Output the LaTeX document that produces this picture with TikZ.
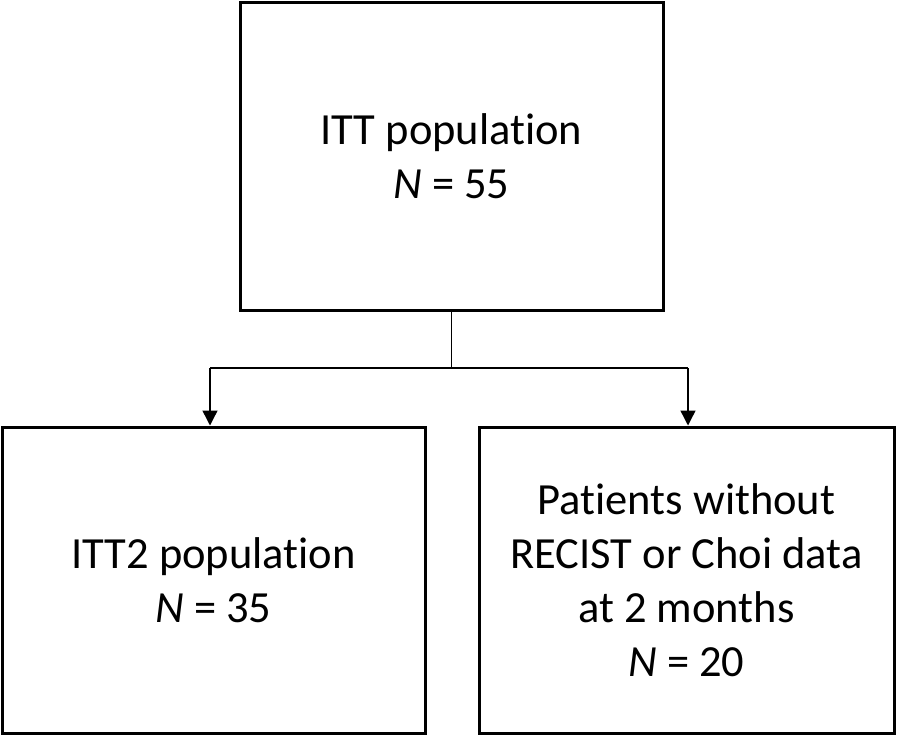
\documentclass[tikz,border=0pt]{standalone}
\usepackage{fontspec}
\setmainfont[Ligatures=NoCommon]{Carlito}
\usetikzlibrary{arrows.meta}
\begin{document}
\begin{tikzpicture}[x=1pt,y=-1pt,
  box/.style={draw=black,line width=3pt,inner sep=0pt,align=center,
    font=\fontsize{44.5}{54}\selectfont},
  conn/.style={line width=1.4pt},
  arr/.style={conn,-{Triangle[length=15pt,width=15pt]}}]
\useasboundingbox (0,0) rectangle (897,736);
\node[box,minimum width=423pt,minimum height=308pt] (itt) at (451.5,156) {ITT population\\\textit{N} = 55};
\node[box,minimum width=423pt,minimum height=306pt] (itt2) at (213.5,580) {ITT2 population\\\textit{N} = 35};
\node[box,minimum width=415pt,minimum height=306pt] (pat) at (686.5,580) {Patients without\\RECIST or Choi data\\at 2 months\\\textit{N} = 20};
\coordinate (mid) at (451.5,368);
\coordinate (l) at (210,368);
\coordinate (r) at (688,368);
\draw[conn] (itt.south) -- (mid);
\draw[conn] (l) -- (r);
\draw[arr] (l) -- (l |- itt2.north);
\draw[arr] (r) -- (r |- pat.north);
\end{tikzpicture}
\end{document}
